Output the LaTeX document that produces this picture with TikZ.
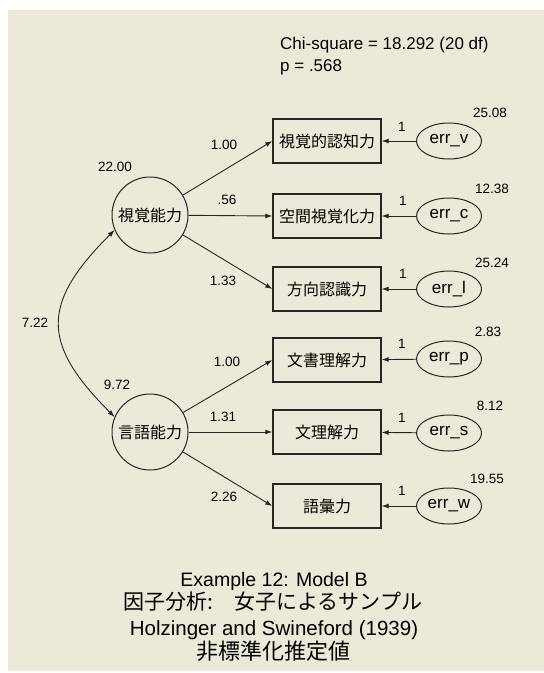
\documentclass[tikz,border=0pt]{standalone}
\usepackage{fontspec}
\setmainfont{Liberation Sans}
\newfontfamily\jp{Noto Sans CJK JP}
\usetikzlibrary{arrows.meta,shapes.geometric}
\definecolor{bgc}{HTML}{ECE9D8}
\tikzset{
  obs/.style={draw=black!85, line width=1.4pt, minimum width=108pt, minimum height=44pt, inner sep=0pt, font=\jp\fontsize{16}{16}\selectfont},
  lat/.style={circle, draw=black!85, line width=1pt, minimum size=76pt, inner sep=0pt, font=\jp\fontsize{16}{16}\selectfont},
  errn/.style={ellipse, draw=black!85, line width=1pt, minimum width=65pt, minimum height=36pt, inner sep=0pt, font=\fontsize{17}{17}\selectfont},
  num/.style={font=\fontsize{13.5}{13.5}\selectfont, inner sep=0pt},
  arr/.style={-{Latex[length=7pt,width=5pt]}, line width=0.9pt, draw=black!85},
  dblarr/.style={{Latex[length=7pt,width=5pt]}-{Latex[length=7pt,width=5pt]}, line width=0.9pt, draw=black!85},
  big/.style={font=\fontsize{17}{17}\selectfont, inner sep=0pt, anchor=west},
  ttl/.style={font=\fontsize{19.5}{19.5}\selectfont, inner sep=0pt},
  jttl/.style={font=\jp\fontsize{21}{21}\selectfont, inner sep=0pt}
}
\begin{document}
\begin{tikzpicture}[x=1pt,y=-1pt]
\useasboundingbox (0,0) rectangle (544,673);
\fill[white] (0,0) rectangle (544,673);
\fill[bgc] (8,10) rectangle (544,671);

% header
\node[big] (chi) at (280,45) {Chi-square = 18.292 (20 df)};
\node[big] (pv) at (280,67) {p = .568};

% latent factors
\node[lat] (vis) at (150,215) {視覚能力};
\node[lat] (lang) at (150,432) {言語能力};

% observed
\node[obs] (b1) at (327,141) {視覚的認知力};
\node[obs] (b2) at (327,216) {空間視覚化力};
\node[obs] (b3) at (327,289) {方向認識力};
\node[obs] (b4) at (327,360) {文書理解力};
\node[obs] (b5) at (327,432) {文理解力};
\node[obs] (b6) at (327,506) {語彙力};

% errors
\node[errn] (e1) at (449,141) {err\_v};
\node[errn] (e2) at (449,216) {err\_c};
\node[errn] (e3) at (449,289) {err\_l};
\node[errn] (e4) at (449,359) {err\_p};
\node[errn] (e5) at (449,433) {err\_s};
\node[errn] (e6) at (449,506) {err\_w};

% loadings
\draw[arr] (vis) -- (b1.west);
\draw[arr] (vis) -- (b2.west);
\draw[arr] (vis) -- (b3.west);
\draw[arr] (lang) -- (b4.west);
\draw[arr] (lang) -- (b5.west);
\draw[arr] (lang) -- (b6.west);

\foreach \i in {1,...,6} {\draw[arr] (e\i) -- (b\i);}

% covariance
\draw[dblarr] (vis.203) .. controls +(135:104) and +(225:104) .. (lang.157);

% numbers
\node[num] (l1) at (224,145) {1.00};
\node[num] (l2) at (227,200) {.56};
\node[num] (l3) at (223,281) {1.33};
\node[num] (l4) at (227,362) {1.00};
\node[num] (l5) at (223,417) {1.31};
\node[num] (l6) at (224,497) {2.26};

\node[num] (o1) at (402,127) {1};
\node[num] (o2) at (403,201) {1};
\node[num] (o3) at (403,274) {1};
\node[num] (o4) at (402,344) {1};
\node[num] (o5) at (402,418) {1};
\node[num] (o6) at (402,491) {1};

\node[num] (v1) at (490,113) {25.08};
\node[num] (v2) at (492,189) {12.38};
\node[num] (v3) at (492,263) {25.24};
\node[num] (v4) at (488,332) {2.83};
\node[num] (v5) at (490,406) {8.12};
\node[num] (v6) at (487,479) {19.55};

\node[num] (fv1) at (115,167) {22.00};
\node[num] (fv2) at (117,385) {9.72};
\node[num] (cv) at (35,323) {7.22};

% title
\node[ttl] (t1) at (274,581) {Example 12: Model B};
\node[jttl] (t2) at (273,602) {因子分析:　女子によるサンプル};
\node[ttl, font=\fontsize{20.5}{20.5}\selectfont] (t3) at (274,630) {Holzinger and Swineford (1939)};
\node[jttl, font=\jp\fontsize{22}{22}\selectfont] (t4) at (273,651) {非標準化推定値};
\end{tikzpicture}
\end{document}
